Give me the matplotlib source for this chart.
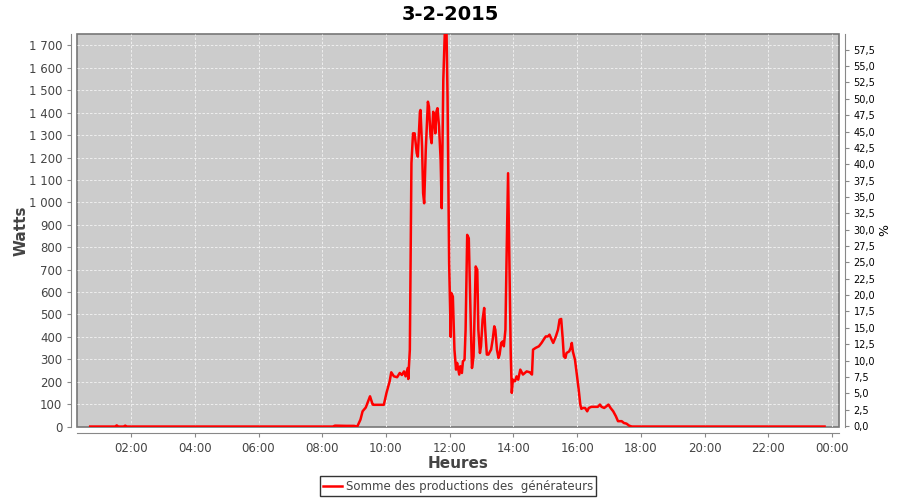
import numpy as np
import matplotlib
matplotlib.use("Agg")
import matplotlib.pyplot as plt
from matplotlib.ticker import FuncFormatter, MultipleLocator

plt.rcParams["font.family"] = ["DejaVu Sans"]

# production (W) over the day
times = ["00:43", "01:30", "01:33", "01:36", "01:46", "01:49", "01:52", "08:20", "08:24", "08:45",
         "09:00", "09:06", "09:12", "09:16", "09:22", "09:30", "09:35", "09:37", "09:56",
         "10:01", "10:07", "10:10", "10:15", "10:21", "10:26", "10:30", "10:34", "10:37", "10:41",
         "10:42", "10:45", "10:48", "10:51", "10:54", "10:58", "11:00", "11:04", "11:05", "11:08",
         "11:10", "11:12", "11:15", "11:19", "11:21", "11:24", "11:26", "11:29", "11:31", "11:33",
         "11:35", "11:37", "11:40", "11:43", "11:45", "11:48", "11:51", "11:54", "11:56", "11:59",
         "12:02", "12:03", "12:06", "12:09", "12:12", "12:14", "12:18", "12:20", "12:23", "12:25",
         "12:28", "12:30", "12:33", "12:36", "12:38", "12:40", "12:42", "12:45", "12:49", "12:52",
         "12:54", "12:57", "12:59", "13:02", "13:05", "13:07", "13:10", "13:13", "13:16", "13:18",
         "13:21", "13:24", "13:26", "13:29", "13:32", "13:34", "13:37", "13:40", "13:42", "13:45",
         "13:47", "13:50", "13:53", "13:55", "13:57", "13:59", "14:03", "14:06", "14:09", "14:13",
         "14:18", "14:25", "14:31", "14:35", "14:37", "14:42", "14:48", "14:53", "14:57", "15:01",
         "15:05", "15:08", "15:12", "15:15", "15:20", "15:24", "15:27", "15:30", "15:33", "15:35",
         "15:38", "15:40", "15:45", "15:48", "15:50", "15:52", "15:56", "16:00", "16:03", "16:06",
         "16:08", "16:11", "16:15", "16:19", "16:22", "16:27", "16:33", "16:39", "16:43", "16:46",
         "16:51", "16:55", "16:59", "17:03", "17:08", "17:13", "17:17", "17:24", "17:28", "17:33",
         "17:38", "17:43", "23:46"]
watts = [0, 0, 5, 0, 0, 4, 0, 0, 4, 3,
         3, 0, 31, 68, 85, 135, 98, 97, 97,
         150, 202, 242, 224, 220, 239, 230, 246, 224, 261,
         212, 343, 1175, 1308, 1308, 1219, 1204, 1404, 1412, 1249,
         1041, 996, 1234, 1449, 1427, 1293, 1264, 1404, 1367, 1308,
         1404, 1420, 1338, 1189, 974, 1546, 1770, 1770, 1471, 729,
         400, 596, 580, 343, 254, 284, 232, 269, 239, 291,
         298, 432, 855, 840, 640, 432, 261, 313, 714, 699,
         432, 328, 358, 477, 529, 432, 321, 321, 335, 343,
         388, 447, 432, 343, 306, 321, 373, 380, 358, 432,
         729, 1130, 640, 328, 150, 209, 202, 224, 209, 254,
         232, 246, 242, 232, 343, 351, 358, 373, 388, 402,
         402, 410, 388, 373, 402, 432, 477, 480, 388, 313,
         306, 328, 335, 351, 373, 335, 298, 224, 165, 98,
         79, 83, 83, 68, 83, 88, 88, 88, 98, 88,
         83, 90, 98, 83, 68, 46, 24, 24, 16, 13,
         4, 0, 0]

hours = [int(t[:2]) + int(t[3:]) / 60 for t in times]

fig = plt.figure(figsize=(9, 5), dpi=100)
ax = fig.add_axes([77 / 900, 1 - 427 / 500, 762 / 900, 393 / 500])
ax.set_facecolor("#cccccc")
ax.plot(hours, watts, color="#ff0000", lw=1.8, label="Somme des productions des  générateurs", zorder=3)

ax.set_xlim(0.303, 24.22)
ax.set_ylim(-2, 1751)
ax.xaxis.set_major_locator(MultipleLocator(2))
ax.xaxis.set_major_formatter(FuncFormatter(lambda v, p: "%02d:00" % (int(round(v)) % 24)))
ax.yaxis.set_major_locator(MultipleLocator(100))
ax.yaxis.set_major_formatter(FuncFormatter(lambda v, p: "{:,}".format(int(v)).replace(",", " ")))
ax.grid(True, color="#f4f4f4", ls=(0, (3, 2)), lw=0.6)
ax.set_axisbelow(True)

for s in ["top", "right"]:
    ax.spines[s].set_visible(False)
for s in ["left", "bottom"]:
    ax.spines[s].set_position(("outward", 4))
    ax.spines[s].set_color("#888888")
ax.patch.set_edgecolor("#777777")
ax.patch.set_linewidth(1.2)
ax.tick_params(colors="#888888", labelcolor="#444444", labelsize=8.5, length=3)

ax.set_xlabel("Heures", fontsize=11, fontweight="bold", color="#444444", labelpad=1)
ax.set_ylabel("Watts", fontsize=11, fontweight="bold", color="#444444", labelpad=0)
fig.suptitle("3-2-2015", fontsize=14, fontweight="bold", x=0.5, y=0.99)

ax2 = ax.twinx()
ax2.set_ylim(-0.15, 59.9)
ax2.yaxis.set_major_locator(MultipleLocator(2.5))
ax2.yaxis.set_major_formatter(FuncFormatter(lambda v, p: ("%.1f" % v).replace(".", ",")))
for s in ["top", "left", "bottom"]:
    ax2.spines[s].set_visible(False)
ax2.spines["right"].set_position(("outward", 4))
ax2.spines["right"].set_color("#888888")
ax2.tick_params(colors="#888888", labelcolor="black", labelsize=7, length=3)
ax2.set_ylabel("%", fontsize=9, color="black", labelpad=2)

leg = ax.legend(loc="upper center", bbox_to_anchor=(0.5, -0.11), frameon=True, fancybox=False,
                fontsize=8.5, handlelength=1.6, borderpad=0.3, handletextpad=0.3)
leg.get_frame().set_edgecolor("black")
leg.get_frame().set_linewidth(1)
for t in leg.get_texts():
    t.set_color("#444444")

fig.savefig("out.png", dpi=100)
